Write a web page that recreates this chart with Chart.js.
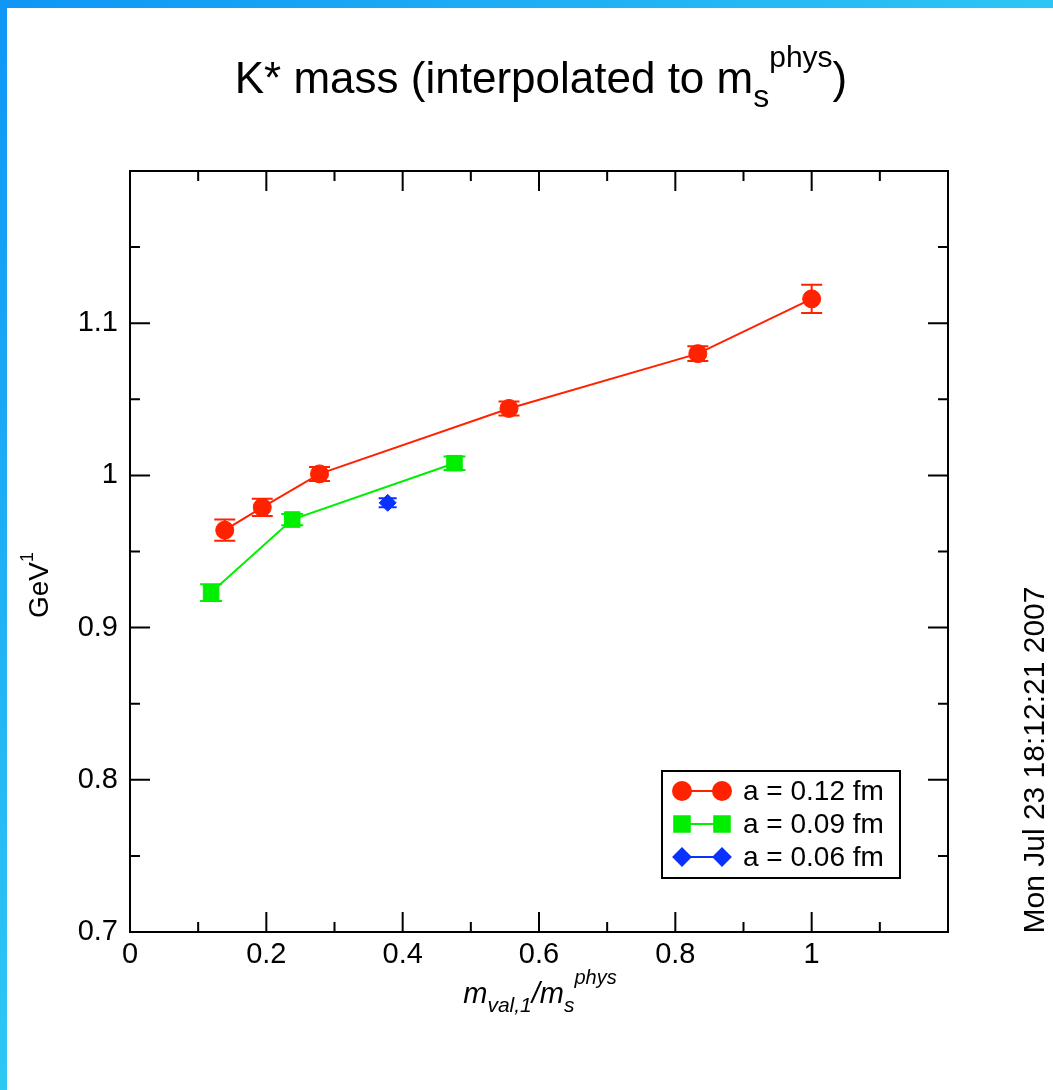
<!DOCTYPE html>
<html>
<head>
<meta charset="utf-8">
<script src="https://cdn.jsdelivr.net/npm/chart.js@4.4.0/dist/chart.umd.min.js"></script>
<style>
  html, body { margin: 0; padding: 0; }
  body { width: 1053px; height: 1090px; position: relative; overflow: hidden;
    background: radial-gradient(circle at 0 0, #0f96f6 0px, #2ec8f4 1100px); }
  #paper { position: absolute; left: 7px; top: 8px; right: 0; bottom: 0; background: #fff; }
  #kstar { position: absolute; left: 0; top: 0; }
</style>
</head>
<body>
<div id="paper"></div>
<canvas id="kstar" width="1053" height="1090"></canvas>
<script>
// a = 0.12 fm
var x012 = [0.139, 0.194, 0.278, 0.556, 0.833, 1.0];
var y012 = [0.964, 0.979, 1.001, 1.044, 1.080, 1.116];
var e012 = [0.0070, 0.0057, 0.0046, 0.0046, 0.0048, 0.0093];
// a = 0.09 fm
var x009 = [0.119, 0.238, 0.476];
var y009 = [0.923, 0.971, 1.008];
var e009 = [0.0055, 0.0037, 0.0045];
// a = 0.06 fm
var x006 = [0.378];
var y006 = [0.982];
var e006 = [0.0030];

var seriesLabels = ["a = 0.12 fm", "a = 0.09 fm", "a = 0.06 fm"];
var xTicks = [0, 0.2, 0.4, 0.6, 0.8, 1];
var yTicks = [0.7, 0.8, 0.9, 1, 1.1];

var FONT = "'Liberation Sans', Arial, Helvetica, sans-serif";

function pts(xs, ys) {
  return xs.map(function (x, i) { return { x: x, y: ys[i] }; });
}

// draw a string made of pieces (sub/superscripts)
function richText(ctx, parts, x, y, align) {
  var w = 0;
  parts.forEach(function (p) {
    ctx.font = (p.it ? "italic " : "") + p.size + "px " + FONT;
    p.w = ctx.measureText(p.t).width;
    w += p.w + (p.gap || 0);
  });
  var cx = align === "center" ? x - w / 2 : x;
  parts.forEach(function (p) {
    ctx.font = (p.it ? "italic " : "") + p.size + "px " + FONT;
    ctx.fillText(p.t, cx, y + (p.dy || 0));
    cx += p.w + (p.gap || 0);
  });
}

var errorBars = {
  id: "errorBars",
  beforeDatasetsDraw: function (chart) {
    var ctx = chart.ctx, xs = chart.scales.x, ys = chart.scales.y;
    ctx.save();
    chart.data.datasets.forEach(function (ds) {
      ctx.strokeStyle = ds.borderColor;
      ctx.lineWidth = 2;
      ds.data.forEach(function (p, i) {
        var px = xs.getPixelForValue(p.x);
        var top = ys.getPixelForValue(p.y + ds.err[i]);
        var bot = ys.getPixelForValue(p.y - ds.err[i]);
        var c = ds.capHalf;
        ctx.beginPath();
        ctx.moveTo(px, top); ctx.lineTo(px, bot);
        ctx.moveTo(px - c, top); ctx.lineTo(px + c, top);
        ctx.moveTo(px - c, bot); ctx.lineTo(px + c, bot);
        ctx.stroke();
      });
    });
    ctx.restore();
  }
};

var frameAndText = {
  id: "frameAndText",
  afterDraw: function (chart) {
    var ctx = chart.ctx, a = chart.chartArea;
    var xs = chart.scales.x, ys = chart.scales.y;
    ctx.save();
    ctx.strokeStyle = "#000";
    ctx.lineWidth = 2;
    ctx.strokeRect(a.left, a.top, a.right - a.left, a.bottom - a.top);

    // inward ticks on all four sides
    ctx.beginPath();
    for (var i = 0; i <= 12; i++) {
      var v = i / 10, px = xs.getPixelForValue(v), len = i % 2 === 0 ? 20 : 10;
      ctx.moveTo(px, a.bottom); ctx.lineTo(px, a.bottom - len);
      ctx.moveTo(px, a.top); ctx.lineTo(px, a.top + len);
    }
    for (var j = 0; j <= 10; j++) {
      var w = 0.7 + j * 0.05, py = ys.getPixelForValue(w), l2 = j % 2 === 0 ? 20 : 10;
      ctx.moveTo(a.left, py); ctx.lineTo(a.left + l2, py);
      ctx.moveTo(a.right, py); ctx.lineTo(a.right - l2, py);
    }
    ctx.stroke();

    ctx.fillStyle = "#000";
    ctx.textBaseline = "alphabetic";
    ctx.textAlign = "left";

    // title
    richText(ctx, [
      { t: "K* mass (interpolated to m", size: 44 },
      { t: "s", size: 32, dy: 14 },
      { t: "phys", size: 30, dy: -26 },
      { t: ")", size: 44 }
    ], 541, 93, "center");

    // x axis title
    richText(ctx, [
      { t: "m", size: 29, it: true },
      { t: "val,1", size: 21, it: true, dy: 9 },
      { t: "/m", size: 29, it: true },
      { t: "s", size: 21, it: true, dy: 9 },
      { t: "phys", size: 20, it: true, dy: -19 }
    ], 540, 1003, "center");

    // y axis title
    ctx.save();
    ctx.translate(48, 585);
    ctx.rotate(-Math.PI / 2);
    richText(ctx, [
      { t: "GeV", size: 28 },
      { t: "1", size: 18, dy: -15 }
    ], 0, 0, "center");
    ctx.restore();

    // time stamp
    ctx.save();
    ctx.translate(1044, 760);
    ctx.rotate(-Math.PI / 2);
    richText(ctx, [{ t: "Mon Jul 23 18:12:21 2007", size: 30 }], 0, 0, "center");
    ctx.restore();

    // legend
    var bx = 662, by = 771, bw = 238, bh = 107;
    ctx.lineWidth = 2;
    ctx.strokeRect(bx, by, bw, bh);
    var rowY = [791, 824, 857];
    chart.data.datasets.forEach(function (ds, k) {
      var y = rowY[k];
      ctx.strokeStyle = ds.borderColor;
      ctx.lineWidth = 2;
      ctx.beginPath(); ctx.moveTo(682, y); ctx.lineTo(722, y); ctx.stroke();
      ctx.fillStyle = ds.backgroundColor;
      var o = { pointStyle: ds.pointStyle, radius: ds.pointRadius, rotation: 0, borderWidth: 1 };
      Chart.helpers.drawPoint(ctx, o, 682, y);
      Chart.helpers.drawPoint(ctx, o, 722, y);
      ctx.fillStyle = "#000";
      ctx.font = "28px " + FONT;
      ctx.textBaseline = "middle";
      ctx.fillText(seriesLabels[k], 743, y + 1);
      ctx.textBaseline = "alphabetic";
    });
    ctx.restore();
  }
};

function fmt(v) { return String(+v.toFixed(2)); }

new Chart(document.getElementById("kstar").getContext("2d"), {
  type: "scatter",
  data: {
    datasets: [
      {
        label: seriesLabels[0], data: pts(x012, y012), err: e012, capHalf: 10.5,
        showLine: true, borderColor: "#ff2200", backgroundColor: "#ff2200",
        borderWidth: 2, pointStyle: "circle", pointRadius: 9, pointBorderWidth: 1
      },
      {
        label: seriesLabels[1], data: pts(x009, y009), err: e009, capHalf: 11,
        showLine: true, borderColor: "#00ee00", backgroundColor: "#00ee00",
        borderWidth: 2, pointStyle: "rect", pointRadius: 11, pointBorderWidth: 1
      },
      {
        label: seriesLabels[2], data: pts(x006, y006), err: e006, capHalf: 9,
        showLine: true, borderColor: "#0a32ff", backgroundColor: "#0a32ff",
        borderWidth: 2, pointStyle: "rectRot", pointRadius: 8.5, pointBorderWidth: 1
      }
    ]
  },
  options: {
    responsive: false,
    animation: false,
    layout: { padding: { top: 171, right: 105, left: 0, bottom: 0 } },
    plugins: { legend: { display: false }, tooltip: { enabled: false }, title: { display: false } },
    scales: {
      x: {
        type: "linear", position: "bottom", min: 0, max: 1.2,
        afterFit: function (s) { s.height = 1090 - 932; },
        afterBuildTicks: function (s) { s.ticks = xTicks.map(function (v) { return { value: v }; }); },
        grid: { display: false, drawTicks: false }, border: { display: false },
        ticks: { color: "#000", padding: 6, maxRotation: 0, font: { family: FONT, size: 29 }, callback: fmt }
      },
      y: {
        type: "linear", position: "left", min: 0.7, max: 1.2,
        afterFit: function (s) { s.width = 130; },
        afterBuildTicks: function (s) { s.ticks = yTicks.map(function (v) { return { value: v }; }); },
        grid: { display: false, drawTicks: false }, border: { display: false },
        ticks: { color: "#000", padding: 12, font: { family: FONT, size: 29 }, callback: fmt }
      }
    }
  },
  plugins: [errorBars, frameAndText]
});
</script>
</body>
</html>
